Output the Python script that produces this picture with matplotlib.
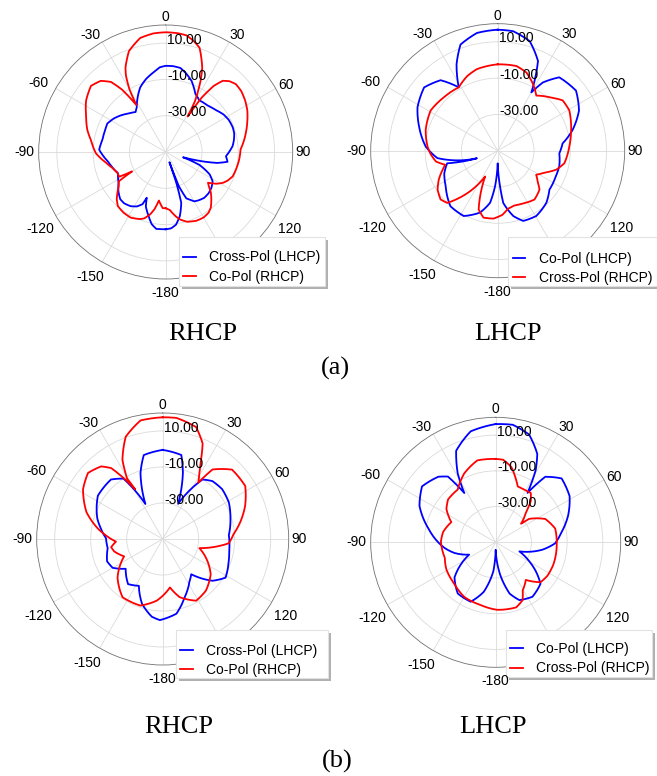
import numpy as np
import matplotlib.pyplot as plt
from matplotlib.patches import Rectangle
from matplotlib.path import Path

plt.rcParams['font.family'] = ['Liberation Sans', 'DejaVu Sans']

# Gain (dB) against angle (deg), each trace listed in drawing order
# (a) RHCP antenna
a_rhcp_cross_ang = [-180, -176, -173, -169, -165, -160, -157.5, -156, -152, -147, -141, -136, -130,
                    -123, -114, -100, -88, -79, -70, -64, -57, -51, -44, -37, -33, -27, -21.5, -15,
                    -9, -4, 0, 5, 10, 15, 20, 27, 33, 42, 50, 57, 63, 70, 75, 80, 85, 94, 99, 102,
                    104, 107, 111, 117, 122, 128, 134, 140, 146, 150, 153, 156, 159, 160, 161, 163,
                    167.5, 172, 176]
a_rhcp_cross_db = [-7.4, -7.4, -7.3, -9.5, -13.5, -18, -22.7, -18.5, -16, -14.4, -13.6, -13.9, -16,
                   -19, -21.2, -18, -13.3, -14.5, -14.5, -14.2, -16, -18, -20.5, -22.4, -20.7, -16,
                   -11.7, -8.3, -5.7, -3.2, -2.5, -2.5, -3, -5.5, -8.3, -14, -16, -15.5, -14, -12,
                   -11, -10.6, -10.9, -11.8, -13, -16.7, -15.5, -21, -28, -40, -30, -22.8, -19.5,
                   -18, -17.2, -17, -17.8, -18.6, -20.5, -22, -30, -44, -32, -20.7, -13.9, -9.5, -7.8]
a_rhcp_co_ang = [-180, -177, -172, -169, -166, -162, -159, -152, -145, -138.5, -134, -130, -126,
                 -122, -120, -118, -113, -107, -100, -91, -81, -74, -66, -57, -48.5, -42.4, -38,
                 -35, -32, -30, -27.5, -25.5, -20, -12.6, -6, 0, 6, 10, 14, 18, 21, 23.4, 26, 28,
                 30, 31.8, 33.5, 36, 38.7, 42, 45.9, 51, 57, 63, 68.8, 75, 81.4, 88, 96, 103, 110,
                 115, 118.5, 122, 126, 128.5, 132, 136, 141, 145, 150, 156, 163, 168, 171, 176]
a_rhcp_co_db = [-19, -19, -23, -18, -14.6, -11.5, -10.4, -9, -9.3, -10.2, -12.5, -15.3, -18, -19.5,
                -28.6, -21, -21, -19.5, -16.5, -11.5, -8.3, -5, -2, 2.3, 5, 3.1, -1, -8, -19.5, -10,
                -2.5, 1.5, 9.2, 14.4, 15.7, 16, 15.8, 15.3, 13.2, 10.4, 5, 0.7, -6, -12, -18, -27,
                -14, -5, 0.3, 2.5, 3.8, 3.5, 2.2, 0.5, -1.7, -4, -6.3, -8.7, -9.3, -10, -10.7,
                -12.5, -14.3, -17, -21.2, -19.6, -16.5, -13.8, -10.5, -9, -8.3, -8.5, -9.8, -12,
                -14, -18]

# (a) LHCP antenna
a_lhcp_co_ang = [0, 7.4, 16.3, 24.2, 27.8, 30, 33.5, 40, 52.5, 63.7, 74.7, 83.6, 92.5, 104, 114,
                 127, 137, 149.4, 160, 166.6, 173.9, 176.3, 180, -175.8, -171.7, -164, -152.5,
                 -139.6, -124.4, -113, -104, -110, -97, -86.8, -73, -61.5, -49.3, -39, -31.6,
                 -25.5, -19.3, -10]
a_lhcp_co_db = [16.7, 16.4, 12.9, 4.2, -6.4, -12.9, -4.9, 2.8, 4.4, 0, -7.3, -14, -16, -15, -15,
                -14.3, -10.7, -8.2, -8.8, -13, -21, -30.4, -43, -30.4, -21, -14.5, -9.4, -9.8,
                -15.3, -18, -21.3, -37.8, -16.5, -10.3, -4.7, 0.3, 3.5, 0, -9, 2.7, 12, 15.9]
a_lhcp_cross_ang = [0, 12.5, 20.2, 27.9, 35, 44, 52.3, 60.6, 68, 76.8, 86.8, 100.6, 108, 115, 122,
                    128, 133, 143, 154, 163, 170, 176, -176.4, -168, -162, -154, -145, -136,
                    -130.5, -123, -116, -108, -105, -100, -93, -86.8, -74, -59, -45.2, -31.6, -22,
                    -14.3]
a_lhcp_cross_db = [-2.4, -2.2, -4.1, -8.4, -12.9, -9, -4.7, -4.7, -6.5, -8.5, -10.5, -12.6, -16.1,
                   -21.5, -25, -22, -18.5, -16.3, -17.7, -18.5, -17.5, -14.5, -12.5, -12.3, -16,
                   -34.2, -22, -10, -8.6, -10.5, -13.9, -18.5, -20, -15.5, -13, -11.3, -8.7, -6.9,
                   -8.2, -9, -5.5, -3.6]

# (b) RHCP antenna
b_rhcp_cross_ang = [0, 12.5, 17, 23.7, 33.8, 40.7, 50, 61, 73.3, 86.6, 100, 108.6, 121.6, 130, 141,
                    148, 159.4, 169.6, -178, -172, -162.3, -153, -142.5, -128.8, -119.9, -111.8,
                    -99.5, -89.3, -80, -72.8, -56.3, -41, -33, -26.3, -18.6, -12.7]
b_rhcp_cross_db = [-0.5, -2.2, -11.6, -28.7, -10.2, -7.6, -6.9, -8, -10.7, -13.2, -12.5, -11.3, -9,
                   -13.9, -24.8, -22, -15.4, -7.8, -4.9, -6.4, -12.2, -20.8, -18.4, -23.6, -17.9,
                   -16.7, -19, -18.5, -15, -12, -6.7, -6.2, -10, -28.3, -11.3, -2.2]
b_rhcp_co_ang = [0, 6.5, 16.6, 22.7, 25.8, 29, 32.3, 35.6, 45, 57.3, 68, 79.7, 86, 93.7, 104, 116.4,
                 126.3, 140, 151.5, 163.7, 171.5, -174.5, -161.5, -145.4, -130.5, -114.2, -104.4,
                 -99, -93.2, -87.6, -80.8, -70.6, -58, -48.5, -40.3, -36, -33, -29, -30.5, -27,
                 -19.9, -10.6]
b_rhcp_co_db = [17.6, 17.7, 14.9, 7.5, -1.1, -8, -13, -2.5, 4.5, 4.5, -0.6, -7, -10.5, -13.2, -29,
                -22.2, -16.9, -12.6, -11, -16.3, -22.8, -15.6, -11, -10.7, -17, -26.5, -22.2, -21,
                -24, -19.4, -13.5, -5.1, 2.2, 5.4, 2.9, -1.3, -9, -18.5, -11, -0.7, 10.4, 17]

# (b) LHCP antenna
b_lhcp_co_ang = [0, 8.3, 17.2, 25.2, 29, 32.8, 37.1, 45.9, 58, 69.8, 81, 91, 99.1, 111, 119.4,
                 125.6, 132.8, 146, 157.7, 164.8, 172.4, 180, -175.5, -166.4, -157.2, -143.5,
                 -130.4, -114.9, -104.6, -96.5, -78.5, -64.5, -52.8, -41.2, -36, -32.5, -28.9,
                 -23.4, -12.7]
b_lhcp_co_db = [16.2, 16.5, 13.2, 4.7, -3.8, -17.1, -4, 1.4, -1.2, -6.8, -12.6, -16.7, -23.6, -35.8,
                -28.5, -22.5, -15.8, -13.2, -15, -20.2, -32, -45.8, -34, -21.4, -13.9, -14.3,
                -19.7, -33.6, -26.2, -21.3, -11.6, -2.7, 1.8, -1.2, -4.5, -17.3, -6, 5.8, 13.7]
b_lhcp_cross_ang = [0, 5.2, 11.7, 18.2, 21.6, 28.5, 35.4, 40.4, 45.3, 53.8, 55, 64.8, 77, 92.4,
                    111, 123, 131.7, 141.3, 150.7, 155, 162.5, 179, -166.3, -150, -135, -118.6,
                    -107, -89.3, -78.8, -65.6, -56, -48, -35.8, -24.6, -12.7]
b_lhcp_cross_db = [-3.3, -3.6, -6.9, -13.3, -16.4, -16.5, -16.1, -19.7, -26.2, -32.4, -27.1, -19.3,
                   -15.8, -15.8, -15.4, -15.5, -16.4, -23, -19.1, -14.3, -11.8, -12.2, -13.9, -14.7,
                   -17.2, -18.5, -20.2, -19.3, -20, -22.7, -16.7, -14.1, -13.6, -7.6, -3]

ring_ticks = [-30, -10, 10]
ring_labels = ['-30.00', '-10.00', '10.00']
angle_labels = ['0', '30', '60', '90', '120', '-180', '-150', '-120', '-90', '-60', '-30']

# layout (pixels of the 657 x 776 output)
W, H = 657, 776
R_MIN, R_MAX = -50, 20
label_dir = [0, 31.5, 61, 90, 122, 180, -148.7, -121.6, -90, -61.7, -32.7]
label_dist = [1.063, 1.079, 1.084, 1.084, 1.146, 1.11, 1.148, 1.162, 1.116, 1.139, 1.094]


def polar_panel(fig, cx, cy, rad, curves, box, anchor):
    ax = fig.add_axes([(cx - rad) / W, 1 - (cy + rad) / H, 2 * rad / W, 2 * rad / H],
                      projection='polar')
    ax.set_theta_zero_location('N')
    ax.set_theta_direction(-1)
    ax.set_yticks(ring_ticks)
    ax.set_yticklabels([])
    ax.set_ylim(R_MIN, R_MAX)
    ax.set_xticks(np.deg2rad(np.arange(0, 360, 30)))
    ax.set_xticklabels([])
    ax.set_xticks(np.deg2rad(np.arange(0, 360, 2)), minor=True)
    ax.tick_params(axis='x', which='both', direction='in', color='#303030', width=0.6)
    ax.tick_params(axis='x', which='major', length=5)
    ax.tick_params(axis='x', which='minor', length=2.5)
    ax.grid(True, color='#dadada', lw=0.6)
    ax.spines['polar'].set_color('#707070')
    ax.spines['polar'].set_linewidth(0.6)

    for ang, db, color, label in curves:
        th = np.unwrap(np.deg2rad(np.r_[ang, ang[0]]))
        # sample each segment in (angle, dB) space so it bends like a polar trace
        path = Path(np.column_stack([th, np.r_[db, db[0]]])).interpolated(12)
        ax.plot(path.vertices[:, 0], path.vertices[:, 1], color=color, lw=1.3, label=label)

    for val, lab in zip(ring_ticks, ring_labels):
        ax.annotate(lab, xy=(0, val), xytext=(1.2, 2.5), textcoords='offset points',
                    ha='left', va='center', fontsize=10, annotation_clip=False)
    for a, lab, f in zip(label_dir, angle_labels, label_dist):
        ax.text(np.deg2rad(a), R_MIN + (R_MAX - R_MIN) * f, lab, ha='center', va='center',
                fontsize=10, clip_on=False, zorder=5)

    # legend box with its drop shadow
    x0, y0, x1, y1 = box
    ax.add_patch(Rectangle(((x0 + 2.5) / W, 1 - (y1 + 2.5) / H), (x1 - x0) / W, (y1 - y0) / H,
                           transform=fig.transFigure, facecolor='#b0b0b0', edgecolor='none',
                           zorder=4.4, clip_on=False))
    ax.add_patch(Rectangle((x0 / W, 1 - y1 / H), (x1 - x0) / W, (y1 - y0) / H,
                           transform=fig.transFigure, facecolor='white', edgecolor='#e2e2e2',
                           lw=0.8, zorder=4.5, clip_on=False))
    leg = ax.legend(loc='upper left', bbox_to_anchor=(anchor[0] / W, 1 - anchor[1] / H),
                    bbox_transform=fig.transFigure, frameon=False, borderpad=0,
                    borderaxespad=0, handlelength=0.9, handletextpad=1.0, labelspacing=0.39,
                    fontsize=10)
    leg.set_zorder(6)
    return ax


fig = plt.figure(figsize=(6.57, 7.76), dpi=100)

polar_panel(fig, 165.7, 152, 127,
            [(a_rhcp_cross_ang, a_rhcp_cross_db, 'blue', 'Cross-Pol (LHCP)'),
             (a_rhcp_co_ang, a_rhcp_co_db, 'red', 'Co-Pol (RHCP)')],
            (179, 237, 325, 286), (183, 250.5))
polar_panel(fig, 497.7, 150.7, 127,
            [(a_lhcp_co_ang, a_lhcp_co_db, 'blue', 'Co-Pol (LHCP)'),
             (a_lhcp_cross_ang, a_lhcp_cross_db, 'red', 'Cross-Pol (RHCP)')],
            (508, 237, 657, 286), (512.7, 251.5))
polar_panel(fig, 162.7, 539, 126,
            [(b_rhcp_cross_ang, b_rhcp_cross_db, 'blue', 'Cross-Pol (LHCP)'),
             (b_rhcp_co_ang, b_rhcp_co_db, 'red', 'Co-Pol (RHCP)')],
            (176, 630, 328, 678), (180, 643.9))
polar_panel(fig, 495.7, 542.3, 125,
            [(b_lhcp_co_ang, b_lhcp_co_db, 'blue', 'Co-Pol (LHCP)'),
             (b_lhcp_cross_ang, b_lhcp_cross_db, 'red', 'Cross-Pol (RHCP)')],
            (506, 630, 652, 677), (510, 642))

serif = dict(family=['Liberation Serif', 'DejaVu Serif'], fontsize=19, ha='center', va='baseline')
fig.text(202.5 / W, 1 - 340 / H, 'RHCP', **serif)
fig.text(508 / W, 1 - 340 / H, 'LHCP', **serif)
fig.text(335 / W, 1 - 375 / H, '(a)', **serif)
fig.text(179 / W, 1 - 733 / H, 'RHCP', **serif)
fig.text(492.5 / W, 1 - 733 / H, 'LHCP', **serif)
fig.text(337 / W, 1 - 768 / H, '(b)', **serif)

fig.savefig('out.png', dpi=100, facecolor='white')
